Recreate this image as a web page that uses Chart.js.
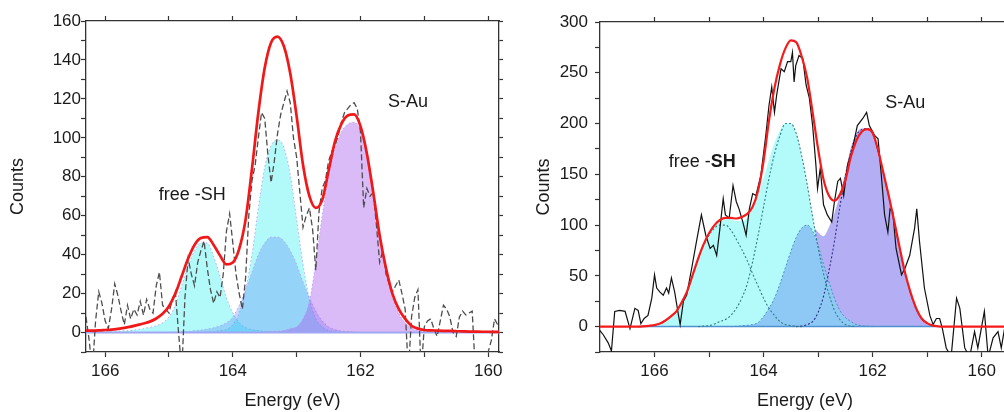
<!DOCTYPE html>
<html>
<head>
<meta charset="utf-8">
<title>S 2p fits</title>
<script src="https://cdn.jsdelivr.net/npm/chart.js@4.4.1/dist/chart.umd.min.js"></script>
<style>
  html, body { margin: 0; padding: 0; background: #fff; overflow: hidden; }
  body { width: 1004px; height: 412px; position: relative; }
  canvas { position: absolute; top: 0; }
  #left { left: 0; }
  #right { left: 520px; }
</style>
</head>
<body>
<canvas id="left" width="520" height="412"></canvas>
<canvas id="right" width="500" height="412"></canvas>
<script>
// tick positions and labels
const energyTicks = [166, 165, 164, 163, 162, 161, 160];
const energyTickLabels = [160, 162, 164, 166];
const leftCountLabels = [0, 20, 40, 60, 80, 100, 120, 140, 160];
const rightCountLabels = [0, 50, 100, 150, 200, 250, 300];

// ---- left panel: fitted curves on a 0.1 eV grid ----
const leftGrid = [
  166.3, 166.2, 166.1, 166.0, 165.9, 165.8, 165.7, 165.6, 165.5, 165.4,
  165.3, 165.2, 165.1, 165.0, 164.9, 164.8, 164.7, 164.6, 164.5, 164.4,
  164.3, 164.2, 164.1, 164.0, 163.9, 163.8, 163.7, 163.6, 163.5, 163.4,
  163.3, 163.2, 163.1, 163.0, 162.9, 162.8, 162.7, 162.6, 162.5, 162.4,
  162.3, 162.2, 162.1, 162.0, 161.9, 161.8, 161.7, 161.6, 161.5, 161.4,
  161.3, 161.2, 161.1, 161.0, 160.9, 160.8, 160.7, 160.6, 160.5, 160.4,
  160.3, 160.2, 160.1, 160.0, 159.9, 159.8
];
const leftFit = [
  1.0, 1.0, 1.1, 1.3, 1.5, 1.9, 2.4, 3.0, 3.8, 4.6,
  5.6, 7.2, 9.6, 13.5, 20, 29, 38, 45, 48.5, 49,
  45, 39.5, 35, 36, 43, 58, 84, 113, 136, 149,
  152, 147, 133, 111, 86, 70, 64, 68, 83, 98,
  107, 111.5, 112, 106, 92, 72, 50, 33, 20, 12,
  7, 3.5, 2, 1.3, 1.1, 1.0, 0.9, 0.8, 0.7, 0.6,
  0.5, 0.5, 0.4, 0.4, 0.3, 0.3
];
// free -SH 2p1/2
const leftPeak1 = [
  0, 0, 0, 0.3, 0.5, 0.7, 0.9, 1, 1.5, 2,
  2.7, 3.5, 5, 8, 14, 24, 34, 42, 46, 46,
  39, 29, 18, 10, 5, 2.5, 1.5, 1, 0.6, 0.3,
  0, 0, 0, 0, 0, 0, 0, 0, 0, 0,
  0, 0, 0, 0, 0, 0, 0, 0, 0, 0,
  0, 0, 0, 0, 0, 0, 0, 0, 0, 0,
  0, 0, 0, 0, 0, 0
];
// free -SH 2p3/2
const leftPeak2 = [
  0, 0, 0, 0, 0, 0, 0, 0, 0, 0,
  0, 0, 0, 0, 0, 0, 0, 0, 0, 0.3,
  0.5, 1, 1.5, 4, 10, 22, 40, 64, 85, 96,
  99, 95, 81, 58, 35, 17, 7, 3, 1, 0.5,
  0.2, 0, 0, 0, 0, 0, 0, 0, 0, 0,
  0, 0, 0, 0, 0, 0, 0, 0, 0, 0,
  0, 0, 0, 0, 0, 0
];
// S-Au 2p1/2
const leftPeak3 = [
  0, 0, 0, 0, 0, 0, 0, 0, 0, 0,
  0, 0, 0, 0, 0.2, 0.4, 0.6, 1, 1.3, 1.8,
  2.5, 3.5, 5, 8, 14, 22, 31, 40, 46, 49,
  49, 47, 42, 35, 26, 18, 11, 6, 3, 1.5,
  0.8, 0.5, 0.3, 0, 0, 0, 0, 0, 0, 0,
  0, 0, 0, 0, 0, 0, 0, 0, 0, 0,
  0, 0, 0, 0, 0, 0
];
// S-Au 2p3/2
const leftPeak4 = [
  0, 0, 0, 0, 0, 0, 0, 0, 0, 0,
  0, 0, 0, 0, 0, 0, 0, 0, 0, 0,
  0, 0, 0, 0, 0, 0, 0, 0, 0.3, 0.5,
  0.7, 1, 2, 3, 7, 16, 36, 60, 80, 94,
  103, 107, 108, 104, 91, 71, 49, 31, 18, 10,
  5, 2.5, 1, 0.5, 0.2, 0, 0, 0, 0, 0,
  0, 0, 0, 0, 0, 0
];
const leftBaseEnergy = [166.3, 159.83];
const leftBaseCounts = [0, 0];

// left panel: measured counts
const leftRawEnergy = [
  166.30, 166.25, 166.20, 166.15, 166.10, 166.05, 166.00, 165.95, 165.90, 165.85,
  165.80, 165.75, 165.70, 165.65, 165.60, 165.55, 165.50, 165.45, 165.40, 165.35,
  165.30, 165.25, 165.20, 165.15, 165.10, 165.05, 165.00, 164.95, 164.90, 164.85,
  164.80, 164.75, 164.70, 164.65, 164.60, 164.55, 164.50, 164.45, 164.40, 164.35,
  164.30, 164.25, 164.20, 164.15, 164.10, 164.05, 164.00, 163.95, 163.90, 163.85,
  163.80, 163.75, 163.70, 163.65, 163.60, 163.55, 163.50, 163.45, 163.40, 163.35,
  163.30, 163.25, 163.20, 163.15, 163.10, 163.05, 163.00, 162.95, 162.90, 162.85,
  162.80, 162.75, 162.70, 162.65, 162.60, 162.55, 162.50, 162.45, 162.40, 162.35,
  162.30, 162.25, 162.20, 162.15, 162.10, 162.05, 162.00, 161.95, 161.90, 161.85,
  161.80, 161.75, 161.70, 161.65, 161.60, 161.55, 161.50, 161.45, 161.40, 161.35,
  161.30, 161.25, 161.20, 161.15, 161.10, 161.05, 161.00, 160.95, 160.90, 160.85,
  160.80, 160.75, 160.70, 160.65, 160.60, 160.55, 160.50, 160.45, 160.40, 160.35,
  160.30, 160.25, 160.20, 160.15, 160.10, 160.05, 160.00, 159.95, 159.90, 159.85
];
const leftRawCounts = [
  8, -4, -20, 6, 21, 15, 6, 2, 12, 25,
  19, 11, 4, 14, 7, 12, 9, 16, 9, 17,
  12, 10, 24, 31, 14, 12, 10, 17, 21, 0,
  -20, 18, 38, 30, 24, 36, 42, 47, 33, 22,
  15, 21, 18, 30, 52, 61, 46, 30, 20, 12,
  28, 60, 78, 86, 100, 113, 110, 91, 77, 88,
  102, 112, 118, 124, 118, 100, 90, 72, 54, 60,
  64, 53, 32, 62, 74, 78, 88, 93, 96, 101,
  108, 113, 115, 117, 118, 115, 103, 64, 74, 70,
  72, 55, 36, 42, 30, 25, 21, 24, 27, 20,
  12, -20, 8, 18, 22, -20, 3, 6, 7, 2,
  -2, 6, 14, 12, 8, 0, -2, 8, 11, 9,
  10, 11, -20, -20, -12, -20, -10, -4, 7, 4
];

// ---- right panel: fitted curves on a 0.1 eV grid ----
const rightGrid = [
  167.0, 166.9, 166.8, 166.7, 166.6, 166.5, 166.4, 166.3, 166.2, 166.1,
  166.0, 165.9, 165.8, 165.7, 165.6, 165.5, 165.4, 165.3, 165.2, 165.1,
  165.0, 164.9, 164.8, 164.7, 164.6, 164.5, 164.4, 164.3, 164.2, 164.1,
  164.0, 163.9, 163.8, 163.7, 163.6, 163.5, 163.4, 163.3, 163.2, 163.1,
  163.0, 162.9, 162.8, 162.7, 162.6, 162.5, 162.4, 162.3, 162.2, 162.1,
  162.0, 161.9, 161.8, 161.7, 161.6, 161.5, 161.4, 161.3, 161.2, 161.1,
  161.0, 160.9, 160.8, 160.7, 160.6, 160.5, 160.4, 160.3, 160.2, 160.1,
  160.0, 159.9, 159.8, 159.7, 159.6, 159.5
];
const rightFit = [
  0, 0, 0, 0, 0, 0, 0, 0, 0.3, 0.8,
  1.5, 3, 6, 10, 15, 24, 35, 51, 67, 81,
  92, 100, 105, 107, 107, 106.5, 108, 111, 118, 134,
  163, 203, 235, 258, 274, 282, 280, 266, 245, 211,
  175, 145, 129, 124, 130, 144, 167, 183, 192, 194.5,
  191, 174, 151, 128, 103, 77, 52, 33, 18, 8,
  3.5, 1.2, 0.3, 0, 0, 0, 0, 0, 0, 0,
  0, 0, 0, 0, 0, 0
];
// free -SH doublet, summed (cyan area)
const rightShSum = [
  0, 0, 0, 0, 0, 0, 0, 0, 0.3, 0.8,
  1.5, 3, 6, 10, 15, 24, 35, 51, 67, 81,
  92, 100, 105, 107, 106, 104, 104, 107, 116, 130,
  146, 164, 181, 193, 200, 200, 190, 168, 140, 108,
  78, 52, 32, 16, 7, 2, 0.5, 0, 0, 0,
  0, 0, 0, 0, 0, 0, 0, 0, 0, 0,
  0, 0, 0, 0, 0, 0, 0, 0, 0, 0,
  0, 0, 0, 0, 0, 0
];
// S-Au doublet, summed (violet area)
const rightAuSum = [
  0, 0, 0, 0, 0, 0, 0, 0, 0, 0,
  0, 0, 0, 0, 0, 0, 0, 0, 0, 0,
  0, 0, 0, 0, 0, 0.3, 0.8, 1.3, 2, 4,
  10, 18, 28, 42, 58, 74, 88, 98, 102, 99,
  93, 89, 98, 112, 130, 152, 176, 190, 195, 195,
  190, 172, 150, 127, 102, 76, 51, 32, 17, 7.5,
  3, 1, 0.3, 0, 0, 0, 0, 0, 0, 0,
  0, 0, 0, 0, 0, 0
];
// single components
const rightSh12 = [
  0, 0, 0, 0, 0, 0, 0, 0, 0.3, 0.8,
  1.5, 3, 6, 10, 15, 24, 35, 51, 67, 80,
  90, 97, 100, 100, 95, 86, 76, 65, 52, 40,
  28, 18, 11, 5, 2, 1, 0.3, 0, 0, 0,
  0, 0, 0, 0, 0, 0, 0, 0, 0, 0,
  0, 0, 0, 0, 0, 0, 0, 0, 0, 0,
  0, 0, 0, 0, 0, 0, 0, 0, 0, 0,
  0, 0, 0, 0, 0, 0
];
const rightSh32 = [
  0, 0, 0, 0, 0, 0, 0, 0, 0, 0,
  0, 0, 0, 0, 0, 0, 0, 0, 0, 0.5,
  1, 2.5, 5, 7, 11, 18, 28, 42, 64, 90,
  118, 146, 170, 188, 200, 200, 190, 168, 140, 108,
  78, 52, 32, 16, 7, 2, 0.5, 0, 0, 0,
  0, 0, 0, 0, 0, 0, 0, 0, 0, 0,
  0, 0, 0, 0, 0, 0, 0, 0, 0, 0,
  0, 0, 0, 0, 0, 0
];
const rightAu12 = [
  0, 0, 0, 0, 0, 0, 0, 0, 0, 0,
  0, 0, 0, 0, 0, 0, 0, 0, 0, 0,
  0, 0, 0, 0, 0, 0.3, 0.8, 1.3, 2, 4,
  10, 18, 28, 42, 58, 74, 88, 97, 100, 94,
  80, 61, 44, 28, 16, 9, 5, 2, 1, 0.4,
  0, 0, 0, 0, 0, 0, 0, 0, 0, 0,
  0, 0, 0, 0, 0, 0, 0, 0, 0, 0,
  0, 0, 0, 0, 0, 0
];
const rightAu32 = [
  0, 0, 0, 0, 0, 0, 0, 0, 0, 0,
  0, 0, 0, 0, 0, 0, 0, 0, 0, 0,
  0, 0, 0, 0, 0, 0, 0, 0, 0, 0,
  0, 0, 0, 0, 0, 0, 0, 0.5, 2, 5,
  14, 30, 55, 84, 118, 148, 172, 188, 194, 195,
  190, 172, 150, 127, 102, 76, 51, 32, 17, 7.5,
  3, 1, 0.3, 0, 0, 0, 0, 0, 0, 0,
  0, 0, 0, 0, 0, 0
];
const rightBaseEnergy = [166.3, 160.8];
const rightBaseCounts = [0, 0];

// right panel: measured counts
const rightRawEnergy = [
  167.03, 166.94, 166.85, 166.79, 166.73, 166.64, 166.54, 166.45, 166.36, 166.30,
  166.25, 166.19, 166.12, 166.05, 166.00, 165.96, 165.90, 165.84, 165.78, 165.74,
  165.69, 165.63, 165.56, 165.53, 165.47, 165.41, 165.32, 165.23, 165.14, 165.06,
  164.98, 164.92, 164.86, 164.80, 164.74, 164.70, 164.63, 164.56, 164.50, 164.45,
  164.38, 164.32, 164.26, 164.20, 164.14, 164.05, 163.96, 163.90, 163.85, 163.80,
  163.76, 163.68, 163.62, 163.56, 163.50, 163.47, 163.44, 163.41, 163.35, 163.28,
  163.22, 163.16, 163.10, 163.04, 163.01, 162.96, 162.90, 162.83, 162.75, 162.70,
  162.64, 162.59, 162.53, 162.46, 162.37, 162.28, 162.18, 162.11, 162.06, 161.96,
  161.90, 161.84, 161.78, 161.72, 161.68, 161.63, 161.57, 161.47, 161.41, 161.32,
  161.23, 161.19, 161.14, 161.05, 160.95, 160.89, 160.83, 160.77, 160.72, 160.65,
  160.56, 160.46, 160.40, 160.31, 160.22, 160.13, 160.07, 159.95, 159.88, 159.79,
  159.70, 159.64, 159.58, 159.48
];
const rightRawCounts = [
  -2, -8, -16, -24, 15, 16, 15, -2, 18, 16,
  3, 8, 11, 28, 51, 38, 34, 31, 38, 33,
  48, 34, 11, 2, 25, 31, 57, 84, 110, 90,
  77, 80, 70, 97, 126, 110, 107, 139, 123, 116,
  103, 90, 116, 131, 129, 149, 188, 218, 236, 211,
  228, 254, 251, 261, 261, 270, 241, 257, 267, 264,
  238, 225, 198, 159, 136, 156, 120, 110, 103, 123,
  143, 146, 129, 159, 175, 198, 205, 211, 198, 188,
  185, 149, 110, 93, 116, 113, 77, 51, 57, 70,
  97, 116, 84, 38, 11, 2, 8, 8, -2, -21,
  -30, 28, 18, -21, -30, -5, -21, 15, -30, -11,
  -5, -21, -2, 5
];

// ---- drawing ----
const fontFamily = '"Liberation Sans", Arial, Helvetica, sans-serif';
const ink = '#1a1a1a';
const frame = '#333333';

const toPoints = (xs, ys) => xs.map((x, i) => ({ x: x, y: ys[i] }));

// do not stroke the flat zero parts of a component
const hideFlat = {
  borderColor: (ctx) => (ctx.p0.parsed.y === 0 && ctx.p1.parsed.y === 0 ? 'rgba(0,0,0,0)' : undefined)
};

const curve = (xs, ys, style) => Object.assign({
  data: toPoints(xs, ys),
  pointRadius: 0,
  cubicInterpolationMode: 'monotone',
  fill: false
}, style);

const trace = (xs, ys, style) => Object.assign({
  data: toPoints(xs, ys),
  pointRadius: 0,
  tension: 0,
  fill: false
}, style);

const peakLabels = {
  id: 'peakLabels',
  afterDatasetsDraw(chart, args, opts) {
    const ctx = chart.ctx;
    const xs = chart.scales.x;
    const ys = chart.scales.y;
    ctx.save();
    ctx.fillStyle = ink;
    ctx.textAlign = 'left';
    ctx.textBaseline = 'alphabetic';
    opts.items.forEach((item) => {
      let px = xs.getPixelForValue(item.at[0]);
      const py = ys.getPixelForValue(item.at[1]);
      item.parts.forEach((part) => {
        ctx.font = (part.bold ? 'bold ' : '') + '18px ' + fontFamily;
        ctx.fillText(part.text, px, py);
        px += ctx.measureText(part.text).width;
      });
    });
    ctx.restore();
  }
};

const frameGrid = (len) => ({
  drawOnChartArea: false,
  tickLength: len,
  tickWidth: 1.2,
  tickColor: frame
});
const frameBorder = { display: true, color: frame, width: 1.3 };
const tickFont = { family: fontFamily, size: 17 };
const titleFont = { family: fontFamily, size: 18 };
const setEnergyTicks = (axis) => { axis.ticks = energyTicks.map((v) => ({ value: v })); };

const buildScales = (s) => {
  const scales = {
    x: {
      type: 'linear', position: 'bottom', reverse: true, min: s.xMin, max: s.xMax,
      afterBuildTicks: setEnergyTicks,
      afterFit: (a) => { a.height = s.bottomH; },
      ticks: {
        autoSkip: false, maxRotation: 0, padding: 4, color: ink, font: tickFont,
        callback: (v) => (energyTickLabels.includes(v) ? String(v) : '')
      },
      grid: frameGrid(5),
      border: frameBorder,
      title: { display: true, text: 'Energy (eV)', color: ink, font: titleFont, padding: 0 }
    },
    xTop: {
      type: 'linear', position: 'top', reverse: true, min: s.xMin, max: s.xMax,
      afterBuildTicks: setEnergyTicks,
      afterFit: (a) => { a.height = s.topH; },
      ticks: { display: false },
      grid: frameGrid(5),
      border: frameBorder
    },
    y: {
      type: 'linear', position: 'left', min: s.yMin, max: s.yMax,
      afterFit: (a) => { a.width = s.leftW; },
      ticks: {
        stepSize: s.yStep, autoSkip: false, padding: s.yPad, color: ink, font: tickFont,
        callback: (v) => (s.yLabels.includes(v) ? String(v) : '')
      },
      grid: frameGrid(5),
      border: frameBorder,
      title: { display: true, text: 'Counts', color: ink, font: titleFont, padding: { top: s.titlePad, bottom: 0 } }
    }
  };
  if (s.rightW) {
    scales.yRight = {
      type: 'linear', position: 'right', min: s.yMin, max: s.yMax,
      afterFit: (a) => { a.width = s.rightW; },
      ticks: { stepSize: s.yStep, display: false },
      grid: frameGrid(4),
      border: frameBorder
    };
  }
  return scales;
};

const makeChart = (canvasId, datasets, s, labels) => new Chart(document.getElementById(canvasId), {
  type: 'line',
  data: { datasets: datasets },
  options: {
    responsive: false,
    animation: false,
    devicePixelRatio: 1,
    layout: { padding: { left: 0, right: s.padRight, top: 0, bottom: 0 } },
    scales: buildScales(s),
    plugins: {
      legend: { display: false },
      tooltip: { enabled: false },
      peakLabels: { items: labels }
    }
  },
  plugins: [peakLabels]
});

// left panel, top-most dataset first
const lilacDots = { borderColor: 'rgba(180, 150, 240, 0.8)', borderWidth: 1, borderDash: [1.5, 2.5], segment: hideFlat };
makeChart('left', [
  curve(leftGrid, leftFit, { borderColor: '#f01818', borderWidth: 2.7 }),
  trace(leftRawEnergy, leftRawCounts, { borderColor: '#4d4d4d', borderWidth: 1.3, borderDash: [6, 3] }),
  trace(leftBaseEnergy, leftBaseCounts, { borderColor: '#9fa6f2', borderWidth: 2 }),
  curve(leftGrid, leftPeak4, Object.assign({ fill: 'origin', backgroundColor: 'rgba(165, 85, 235, 0.4)' }, lilacDots)),
  curve(leftGrid, leftPeak3, Object.assign({ fill: 'origin', backgroundColor: 'rgba(90, 130, 245, 0.32)' }, lilacDots)),
  curve(leftGrid, leftPeak2, Object.assign({ fill: 'origin', backgroundColor: 'rgba(0, 238, 238, 0.3)' }, lilacDots)),
  curve(leftGrid, leftPeak1, Object.assign({ fill: 'origin', backgroundColor: 'rgba(0, 238, 238, 0.3)' }, lilacDots))
], {
  xMin: 159.83, xMax: 166.3, yMin: -10, yMax: 160, yStep: 10, yLabels: leftCountLabels,
  leftW: 86, rightW: 21, topH: 21, bottomH: 60, padRight: 0, yPad: 0, titlePad: 7
}, [
  { at: [165.16, 68], parts: [{ text: 'free -SH' }] },
  { at: [161.57, 115.7], parts: [{ text: 'S-Au' }] }
]);

// right panel, top-most dataset first
makeChart('right', [
  curve(rightGrid, rightFit, { borderColor: '#f51b1b', borderWidth: 2.2 }),
  trace(rightRawEnergy, rightRawCounts, { borderColor: '#111111', borderWidth: 1.2 }),
  curve(rightGrid, rightSh12, { borderColor: '#2f7f80', borderWidth: 1.1, borderDash: [2, 2], segment: hideFlat }),
  curve(rightGrid, rightSh32, { borderColor: '#2f7f80', borderWidth: 1.1, borderDash: [2, 2], segment: hideFlat }),
  curve(rightGrid, rightAu32, { borderColor: '#2d2d80', borderWidth: 1.1, borderDash: [2, 2], segment: hideFlat }),
  trace(rightBaseEnergy, rightBaseCounts, { borderColor: '#4d8fd1', borderWidth: 1.5 }),
  curve(rightGrid, rightAu12, { fill: 'origin', backgroundColor: '#8ec9f6', borderColor: '#4f8fbf', borderWidth: 1, borderDash: [2, 2], segment: hideFlat }),
  curve(rightGrid, rightShSum, { fill: 'origin', backgroundColor: '#b3fbfb', borderWidth: 0 }),
  curve(rightGrid, rightAuSum, { fill: 'origin', backgroundColor: '#b4aef4', borderWidth: 0 })
], {
  xMin: 159.48, xMax: 167.0, yMin: -25, yMax: 300, yStep: 25, yLabels: rightCountLabels,
  leftW: 80, rightW: 0, topH: 22, bottomH: 60, padRight: 10, yPad: 7, titlePad: 13
}, [
  { at: [165.74, 157], parts: [{ text: 'free -' }, { text: 'SH', bold: true }] },
  { at: [161.77, 215], parts: [{ text: 'S-Au' }] }
]);
</script>
</body>
</html>
